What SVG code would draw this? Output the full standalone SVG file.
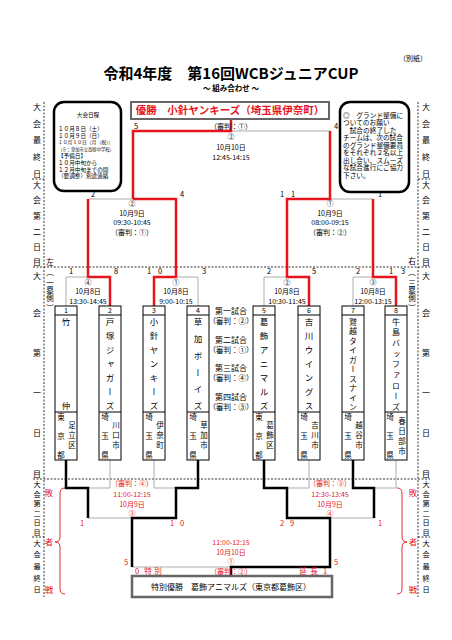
<svg xmlns="http://www.w3.org/2000/svg" width="452" height="640" viewBox="0 0 452 640">
<style>
text{font-family:'Noto Sans CJK JP','Noto Sans',sans-serif;fill:#000}
.s{font-size:7.5px;text-anchor:middle}
.t{font-size:7px;text-anchor:middle}
.rt{fill:#e8141c}
.v{writing-mode:vertical-rl}
.col{font-size:8px}
.col2{font-size:7.2px}
.nm{font-size:8.5px}
.nm2{font-size:8px}
.loc{font-size:7.5px}
.num{font-size:7px;text-anchor:middle}
.nb{font-size:6.7px}
.sb{font-size:5.6px}
.r{fill:none;stroke:#e8141c;stroke-width:2.5}
.g{fill:none;stroke:#999;stroke-width:0.8}
.k{fill:none;stroke:#000;stroke-width:2.5}
.d{fill:none;stroke:#000;stroke-width:0.8;stroke-dasharray:2 1.5}
.box{fill:#fff;stroke:#000;stroke-width:1}
.ln{stroke:#000;stroke-width:1}
.br{fill:none;stroke:#e8141c;stroke-width:0.9}
</style>
<rect width="452" height="640" fill="#fff"/>
<g id="header">
<text x="413" y="60.5" font-size="7" text-anchor="middle">（別紙）</text>
<text x="231" y="78.5" font-size="15" font-weight="bold" text-anchor="middle">令和4年度　第16回WCBジュニアCUP</text>
<text x="231" y="90.7" font-size="7.5" font-weight="bold" text-anchor="middle">～ 組み合わせ ～</text>
</g>
<g id="side-labels">
<line class="d" x1="44" y1="102" x2="44" y2="597"/>
<line class="d" x1="418" y1="102" x2="418" y2="597"/>
<line class="d" x1="33" y1="267" x2="430" y2="267"/>
<line class="d" x1="33" y1="479" x2="430" y2="479"/>
<line class="d" x1="32" y1="179" x2="44" y2="179"/>
<line class="d" x1="32" y1="537" x2="44" y2="537"/>
<line class="d" x1="418" y1="179" x2="430" y2="179"/>
<line class="d" x1="418" y1="537" x2="430" y2="537"/>
<text class="v col" x="37" y="103 120 136 153 170">大会最終日</text>
<text class="v col" x="37" y="181 196 212 228 243 258">大会第二日目</text>
<text class="v col" x="37" y="272 309 349 389 429 470">大会第一日目</text>
<text class="v col2" x="37" y="481 490.5 500 509.5 519 528.5">大会第二日目</text>
<text class="v col2" x="37" y="539.5 551 563 575 586">大会最終日</text>
<text class="v col" x="426" y="103 120 136 153 170">大会最終日</text>
<text class="v col" x="426" y="181 196 212 228 243 258">大会第二日目</text>
<text class="v col" x="426" y="272 309 349 389 429 470">大会第一日目</text>
<text class="v col2" x="426" y="481 490.5 500 509.5 519 528.5">大会第二日目</text>
<text class="v col2" x="426" y="539.5 551 563 575 586">大会最終日</text>
<text class="v" font-size="7.5" x="50" y="258 268 279 286 294 304">左（一塁側）</text>
<text class="v" font-size="7.5" x="412" y="257 268 279 286 294 304">右（三塁側）</text>
<path class="br" d="M65 488 Q60 488 60 493 V537 Q60 542 55 542 Q60 542 60 547 V589 Q60 594 65 594"/>
<path class="br" d="M397 488 Q402 488 402 493 V537 Q402 542 407 542 Q402 542 402 547 V589 Q402 594 397 594"/>
<text class="v rt" font-size="8.5" x="49" y="489 538 586">敗者戦</text>
<text class="v rt" font-size="8.5" x="413" y="489 538 586">敗者戦</text>
</g>
<g id="schedule-box">
<rect x="54" y="102" width="67" height="89" rx="10" fill="#fff" stroke="#000" stroke-width="2.5"/>
<text class="sb" x="88" y="116.5" text-anchor="middle">大会日程</text>
<text class="sb" x="58" y="131">１０月８日（土）</text>
<text class="sb" x="58" y="137.8">１０月９日（日）</text>
<text x="58" y="144.4" font-size="4.8">１０月１０日（月（祝））</text>
<text x="58" y="151.2" font-size="4.3">（※：草加市立高砂中学校）</text>
<text class="sb" x="58" y="158">【予備日】</text>
<text class="sb" x="58" y="164.8">１０月中旬から</text>
<text class="sb" x="58" y="171.6">１２月中旬までの間</text>
<text class="sb" x="58" y="178.4">（要調整）別途連絡</text>
</g>
<g id="notice-box">
<rect x="340" y="102" width="69" height="90" rx="10" fill="#fff" stroke="#000" stroke-width="2.5"/>
<text class="nb" x="343" y="117.6">◎　グランド整備に</text>
<text class="nb" x="343" y="125.1">ついてのお願い</text>
<text class="nb" x="343" y="132.6">　試合の終了した</text>
<text class="nb" x="343" y="140.1">チームは、次の試合</text>
<text class="nb" x="343" y="147.6">のグランド整備要員</text>
<text class="nb" x="343" y="155.1">をそれぞれ２名以上</text>
<text class="nb" x="343" y="162.6">出し合い、スムーズ</text>
<text class="nb" x="343" y="170.1">な試合進行にご協力</text>
<text class="nb" x="343" y="177.6">下さい。</text>
</g>
<g id="connectors">
<path class="g" d="M231 131 H330"/>
<path class="g" d="M330 199 H373"/>
<path class="g" d="M373 277 H353 V306"/>
<path class="g" d="M287 277 H264 V306"/>
<path class="g" d="M133 199 H88"/>
<path class="g" d="M88 277 H66 V306"/>
<path class="g" d="M176 277 H198 V306"/>
<path class="r" d="M133 199 V131 H231 V120"/>
<path class="r" d="M330 131 V199 H287 V277 H309 V306"/>
<path class="r" d="M373 199 V277 H396 V306"/>
<path class="r" d="M133 199 H176 V277 H154 V306"/>
<path class="r" d="M88 199 V277 H110 V306"/>
<path class="g" d="M88 488 H110 V460"/>
<path class="g" d="M176 488 H154 V460"/>
<path class="g" d="M88 518 H132"/>
<path class="g" d="M132 567 H231"/>
<path class="g" d="M287 488 H309 V460"/>
<path class="g" d="M374 488 H396 V460"/>
<path class="g" d="M330 518 H374"/>
<path class="k" d="M66 460 V488 H88 V518"/>
<path class="k" d="M198 460 V488 H176 V518 H132 V567"/>
<path class="k" d="M264 460 V488 H287 V518 H330 V567 H231 V576"/>
<path class="k" d="M353 460 V488 H374 V518"/>
</g>
<g id="champion">
<rect x="131" y="102" width="198" height="17" fill="#fff" stroke="#666" stroke-width="2"/>
<text x="230" y="114" font-size="10.5" font-weight="bold" text-anchor="middle" class="rt">優勝　小針ヤンキーズ（埼玉県伊奈町）</text>
</g>
<g id="final">
<text class="s" x="136" y="129.2">5</text>
<text class="t" x="231" y="129.2">（審判：①）</text>
<text class="s" x="336" y="129.2">4</text>
<text class="t" x="231" y="139">②</text>
<text class="t" x="231" y="149.5">10月10日</text>
<text class="t" x="231" y="160">12:45-14:15</text>
</g>
<g id="semi-left">
<text class="s" x="93" y="196.7">2</text>
<text class="s" x="182" y="196.7">4</text>
<text class="t" x="132" y="205.5">②</text>
<text class="t" x="132" y="215.5">10月9日</text>
<text class="t" x="132" y="225">09:30-10:45</text>
<text class="t" x="132" y="235">（審判：①）</text>
</g>
<g id="semi-right">
<text class="s" x="282 293" y="196.7">11</text>
<text class="s" x="380" y="196.7">1</text>
<text class="t" x="330" y="205.5">①</text>
<text class="t" x="330" y="215.5">10月9日</text>
<text class="t" x="330" y="225">08:00-09:15</text>
<text class="t" x="330" y="235">（審判：②）</text>
</g>
<g id="round1">
<text class="s" x="71" y="274.2">1</text>
<text class="s" x="116" y="274.2">8</text>
<text class="t" x="88" y="284.5">④</text>
<text class="t" x="88" y="294">10月8日</text>
<text class="t" x="88" y="303.7">13:30-14:45</text>
<text class="s" x="149 160" y="274.2">10</text>
<text class="s" x="204" y="274.2">3</text>
<text class="t" x="176" y="284.5">①</text>
<text class="t" x="176" y="294">10月8日</text>
<text class="t" x="176" y="303.7">9:00-10:15</text>
<text class="s" x="269" y="274.2">2</text>
<text class="s" x="314" y="274.2">5</text>
<text class="t" x="287" y="284.5">②</text>
<text class="t" x="287" y="294">10月8日</text>
<text class="t" x="287" y="303.7">10:30-11:45</text>
<text class="s" x="358" y="274.2">2</text>
<text class="s" x="391 403" y="274.2">13</text>
<text class="t" x="373" y="284.5">③</text>
<text class="t" x="373" y="294">10月8日</text>
<text class="t" x="373" y="303.7">12:00-13:15</text>
</g>
<g id="order">
<text x="231" y="313.9" font-size="8" text-anchor="middle">第一試合</text>
<text x="231" y="323.6" font-size="7.5" text-anchor="middle">（審判：②）</text>
<text x="231" y="342.9" font-size="8" text-anchor="middle">第二試合</text>
<text x="231" y="352.6" font-size="7.5" text-anchor="middle">（審判：①）</text>
<text x="231" y="370.9" font-size="8" text-anchor="middle">第三試合</text>
<text x="231" y="380.6" font-size="7.5" text-anchor="middle">（審判：④）</text>
<text x="231" y="399.9" font-size="8" text-anchor="middle">第四試合</text>
<text x="231" y="409.6" font-size="7.5" text-anchor="middle">（審判：③）</text>
</g>
<g id="team1">
<rect class="box" x="55" y="306" width="22" height="154"/>
<line class="ln" x1="55" y1="315" x2="77" y2="315"/><line class="ln" x1="55" y1="412" x2="77" y2="412"/>
<text class="num" x="66" y="313">1</text>
<text class="v nm" x="66" y="317.8 401.8">竹仲</text>
<text class="v loc" x="61" y="413.2 432.2 451.2">東京都</text>
<text class="v loc" x="72" y="421.2 431.2 441.2">足立区</text>
</g>
<g id="team2">
<rect class="box" x="99" y="306" width="22" height="154"/>
<line class="ln" x1="99" y1="315" x2="121" y2="315"/><line class="ln" x1="99" y1="412" x2="121" y2="412"/>
<text class="num" x="110" y="313">2</text>
<text class="v nm" x="110" y="317.8 331.8 345.8 359.8 373.8 387.8 401.8">戸塚ジャガーズ</text>
<text class="v loc" x="105" y="413.2 432.2 451.2">埼玉県</text>
<text class="v loc" x="116" y="421.2 431.2 441.2">川口市</text>
</g>
<g id="team3">
<rect class="box" x="143" y="306" width="22" height="154"/>
<line class="ln" x1="143" y1="315" x2="165" y2="315"/><line class="ln" x1="143" y1="412" x2="165" y2="412"/>
<text class="num" x="154" y="313">3</text>
<text class="v nm" x="154" y="317.8 331.8 345.8 359.8 373.8 387.8 401.8">小針ヤンキーズ</text>
<text class="v loc" x="149" y="413.2 432.2 451.2">埼玉県</text>
<text class="v loc" x="160" y="421.2 431.2 441.2">伊奈町</text>
</g>
<g id="team4">
<rect class="box" x="187" y="306" width="22" height="154"/>
<line class="ln" x1="187" y1="315" x2="209" y2="315"/><line class="ln" x1="187" y1="412" x2="209" y2="412"/>
<text class="num" x="198" y="313">4</text>
<text class="v nm" x="198" y="317.8 334.6 351.4 368.2 385 401.8">草加ボーイズ</text>
<text class="v loc" x="193" y="413.2 432.2 451.2">埼玉県</text>
<text class="v loc" x="204" y="421.2 431.2 441.2">草加市</text>
</g>
<g id="team5">
<rect class="box" x="253" y="306" width="22" height="154"/>
<line class="ln" x1="253" y1="315" x2="275" y2="315"/><line class="ln" x1="253" y1="412" x2="275" y2="412"/>
<text class="num" x="264" y="313">5</text>
<text class="v nm" x="264" y="317.8 331.8 345.8 359.8 373.8 387.8 401.8">葛飾アニマルズ</text>
<text class="v loc" x="259" y="413.2 432.2 451.2">東京都</text>
<text class="v loc" x="270" y="421.2 431.2 441.2">葛飾区</text>
</g>
<g id="team6">
<rect class="box" x="298" y="306" width="22" height="154"/>
<line class="ln" x1="298" y1="315" x2="320" y2="315"/><line class="ln" x1="298" y1="412" x2="320" y2="412"/>
<text class="num" x="309" y="313">6</text>
<text class="v nm" x="309" y="317.8 331.8 345.8 359.8 373.8 387.8 401.8">吉川ウイングス</text>
<text class="v loc" x="304" y="413.2 432.2 451.2">埼玉県</text>
<text class="v loc" x="315" y="421.2 431.2 441.2">吉川市</text>
</g>
<g id="team7">
<rect class="box" x="342" y="306" width="22" height="154"/>
<line class="ln" x1="342" y1="315" x2="364" y2="315"/><line class="ln" x1="342" y1="412" x2="364" y2="412"/>
<text class="num" x="353" y="313">7</text>
<text class="v nm2" x="353" y="317.5 327 336.5 346 355.5 365 374.5 384 393.5 403">鷲越タイガースナイン</text>
<text class="v loc" x="348" y="413.2 432.2 451.2">埼玉県</text>
<text class="v loc" x="359" y="421.2 431.2 441.2">越谷市</text>
</g>
<g id="team8">
<rect class="box" x="385" y="306" width="22" height="154"/>
<line class="ln" x1="385" y1="315" x2="407" y2="315"/><line class="ln" x1="385" y1="412" x2="407" y2="412"/>
<text class="num" x="396" y="313">8</text>
<text class="v nm2" x="396" y="317.5 328.2 338.9 349.6 360.3 371 381.7 392.4 403">牛島バッファローズ</text>
<text class="v loc" x="390" y="413.2 432.2 451.2">埼玉県</text>
<text class="v loc" x="402" y="417.2 427.2 437.2 447.2">春日部市</text>
</g>
<g id="loser-match3">
<text class="t rt" x="132" y="485.5">（審判：④）</text>
<text class="t rt" x="132" y="496.5">11:00-12:15</text>
<text class="t rt" x="132" y="506.5">10月9日</text>
<text class="t rt" x="132" y="515.5">③</text>
<text class="s rt" x="82" y="525.7">1</text>
<text class="s rt" x="172 182" y="525.7">10</text>
</g>
<g id="loser-match4">
<text class="t rt" x="330" y="485.5">（審判：③）</text>
<text class="t rt" x="330" y="496.5">12:30-13:45</text>
<text class="t rt" x="330" y="506.5">10月9日</text>
<text class="t rt" x="330" y="515.5">④</text>
<text class="s rt" x="282 292" y="525.7">29</text>
<text class="s rt" x="380" y="525.7">1</text>
</g>
<g id="loser-final">
<text class="s rt" x="126" y="564.7">5</text>
<text class="s rt" x="336" y="564.7">5</text>
<text class="t rt" x="231" y="545">11:00-12:15</text>
<text class="t rt" x="231" y="555">10月10日</text>
<text class="t rt" x="231" y="564">①</text>
<text class="t rt" x="231" y="574">（審判：②）</text>
<text class="s rt" x="137 148 158" y="574">0特別</text>
<text class="s rt" x="303 314 325" y="574">延長1</text>
</g>
<g id="special-winner">
<rect x="132" y="576" width="200" height="21" fill="#fff" stroke="#666" stroke-width="2.5"/>
<text x="231" y="589.5" font-size="8" text-anchor="middle">特別優勝　葛飾アニマルズ（東京都葛飾区）</text>
</g>
</svg>
